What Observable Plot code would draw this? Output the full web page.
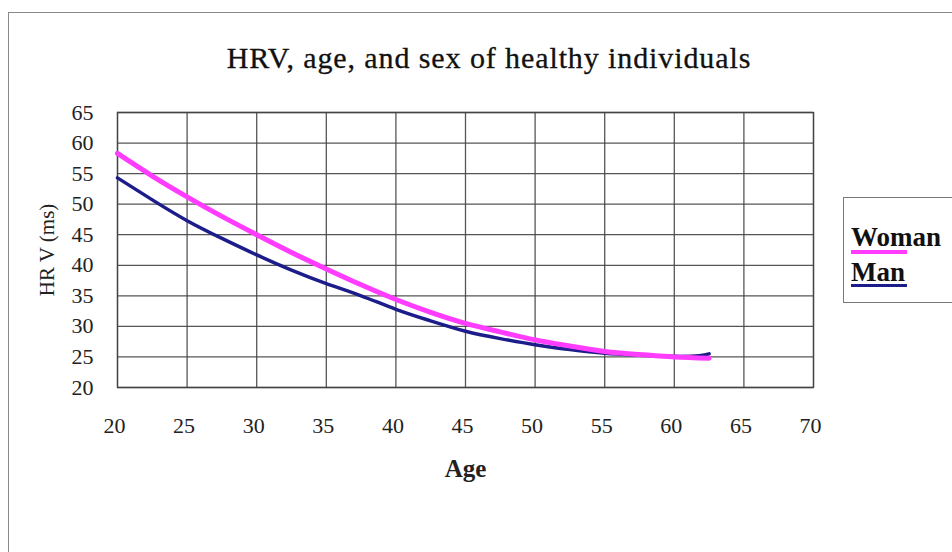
<!DOCTYPE html>
<html>
<head>
<meta charset="utf-8">
<script src="https://cdn.jsdelivr.net/npm/d3@7"></script>
<script src="https://cdn.jsdelivr.net/npm/@observablehq/plot@0.6"></script>
<style>
  html, body { margin: 0; padding: 0; background: #fff; overflow: hidden; }
  #wrap { position: relative; width: 952px; height: 552px; font-family: "Liberation Serif", serif; }
  #outer { position: absolute; left: 8px; top: 12px; width: 960px; height: 560px; border: 1.5px solid #8a8a8a; box-sizing: border-box; }
  #title { position: absolute; left: 0; width: 978px; top: 41px; text-align: center; font-family: "Liberation Serif", serif; font-size: 30px; letter-spacing: 0.9px; color: #111; white-space: nowrap; -webkit-text-stroke: 0.3px #111; }
  #legend { position: absolute; left: 843px; top: 197px; width: 130px; height: 106px; border: 1.5px solid #7a7a7a; box-sizing: border-box; }
  .lg { position: absolute; left: 7px; font-size: 27px; font-weight: bold; color: #111; line-height: 1; }
  .sw { position: absolute; left: 6.5px; width: 56px; }
  #chart { position: absolute; left: 0; top: 0; }
  #chart svg text { fill: #222; }
</style>
</head>
<body>
<div id="wrap">
  <div id="outer"></div>
  <div id="chart"></div>
  <div id="title">HRV, age, and sex of healthy individuals</div>
  <div id="legend"></div>
</div>
<script>
const seriesNames = ["Woman", "Man"];
const seriesColors = ["#ff3cff", "#1c1c8a"];
const ages = [20, 22.5, 25, 27.5, 30, 32.5, 35, 37.5, 40, 42.5, 45, 47.5, 50, 52.5, 55, 57.5, 60, 62.5];
const womanHRV = [58.3, 54.6, 51.2, 48.0, 45.0, 42.1, 39.4, 36.8, 34.4, 32.3, 30.5, 29.1, 27.8, 26.8, 25.9, 25.4, 25.0, 24.8];
const manAges = [20, 22.5, 25, 27.5, 30, 32.5, 35, 37.5, 40, 42.5, 45, 47.5, 50, 52.5, 55, 57.5, 60, 61.8, 62.5];
const manHRV = [54.3, 50.7, 47.3, 44.4, 41.7, 39.2, 37.0, 35.0, 32.8, 30.9, 29.2, 28.0, 27.0, 26.2, 25.6, 25.3, 25.1, 25.2, 25.5];
const xTicks = [20, 25, 30, 35, 40, 45, 50, 55, 60, 65, 70];
const yTicks = [20, 25, 30, 35, 40, 45, 50, 55, 60, 65];

const woman = ages.map((a, i) => ({age: a, hrv: womanHRV[i], sex: "Woman"}));
const man = manAges.map((a, i) => ({age: a, hrv: manHRV[i], sex: "Man"}));

const gridColor = "#444";
const chart = Plot.plot({
  width: 952,
  height: 552,
  marginLeft: 117,
  marginRight: 139,
  marginTop: 112,
  marginBottom: 165,
  style: {fontFamily: "Liberation Serif, serif", fontSize: "22px", color: "#222", background: "transparent"},
  x: {domain: [20, 70], ticks: xTicks},
  y: {domain: [20, 65], ticks: yTicks},
  marks: [
    Plot.gridX(xTicks, {stroke: gridColor, strokeOpacity: 0.9, strokeWidth: 1.3}),
    Plot.gridY(yTicks, {stroke: gridColor, strokeOpacity: 0.9, strokeWidth: 1.3}),
    Plot.frame({stroke: gridColor, strokeWidth: 1.3}),
    Plot.axisX(xTicks, {tickSize: 0, tickPadding: 30, dx: -3, fontSize: 22, label: null}),
    Plot.axisY(yTicks, {tickSize: 0, tickPadding: 24, fontSize: 22, label: null}),
    Plot.axisX({tickSize: 0, ticks: [], label: "Age", labelAnchor: "center", labelArrow: "none", labelOffset: 89, fontSize: 25, fontWeight: "bold"}),
    Plot.axisY({tickSize: 0, ticks: [], label: "HR V (ms)", labelAnchor: "center", labelArrow: "none", labelOffset: 78, fontSize: 21}),
    Plot.line(man, {x: "age", y: "hrv", stroke: seriesColors[1], strokeWidth: 3.5, curve: "natural"}),
    Plot.line(woman, {x: "age", y: "hrv", stroke: seriesColors[0], strokeWidth: 5, curve: "natural"})
  ]
});
document.getElementById("chart").appendChild(chart);

const legend = document.getElementById("legend");
seriesNames.forEach((n, i) => {
  const t = document.createElement("div");
  t.className = "lg";
  t.textContent = n;
  t.style.top = (i === 0 ? 26 : 60.5) + "px";
  legend.appendChild(t);
  const s = document.createElement("div");
  s.className = "sw";
  s.style.background = seriesColors[i];
  s.style.height = (i === 0 ? 4 : 3.5) + "px";
  s.style.top = (i === 0 ? 51.5 : 85.5) + "px";
  legend.appendChild(s);
});
</script>
</body>
</html>
